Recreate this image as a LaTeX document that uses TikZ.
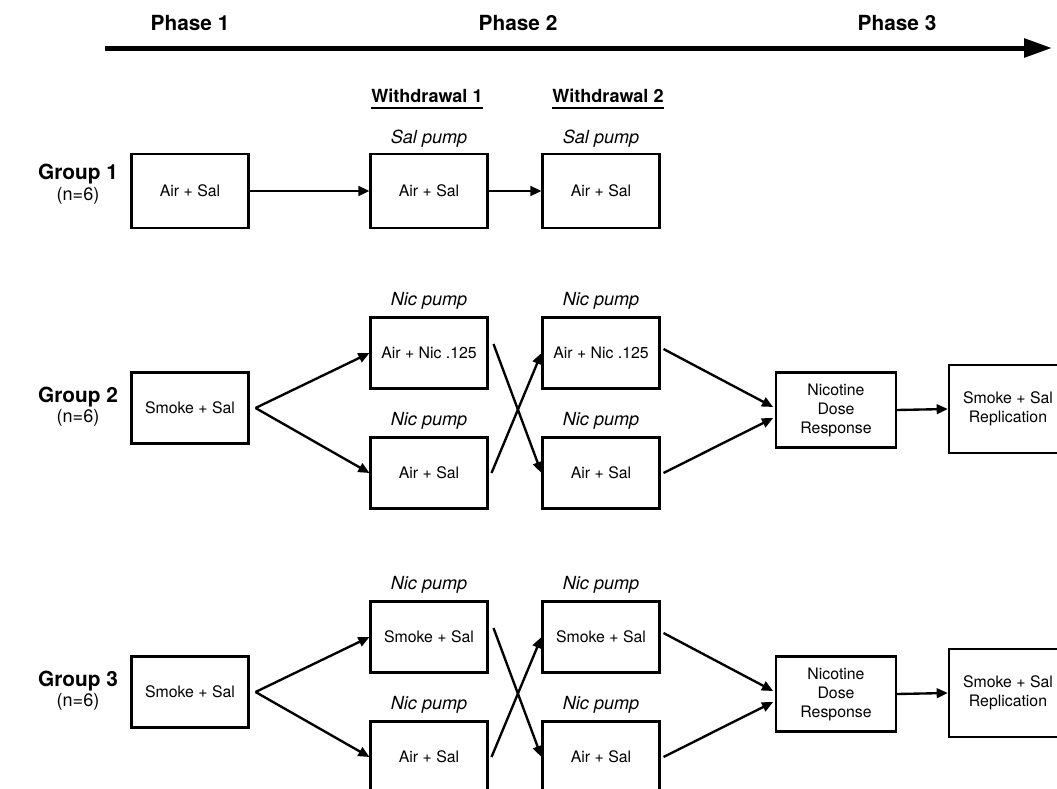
\documentclass[tikz,border=0pt]{standalone}
\usepackage{fontspec}
\setmainfont{TeX Gyre Heros}
\usetikzlibrary{calc,arrows.meta}

\begin{document}
\begin{tikzpicture}[x=0.72pt,y=-0.72pt,
		boite/.style={draw,line width=1.7pt,inner sep=0pt,minimum width=84pt,minimum height=51pt,align=center,font=\fontsize{11.4}{13.7}\selectfont},
		fleche/.style={line width=1.7pt,-{Triangle[length=8pt,width=7pt]}},
		pompe/.style={anchor=base,inner sep=0pt,font=\fontsize{13}{15}\selectfont\itshape},
		phase/.style={font=\fontsize{15}{17}\selectfont\bfseries},
		retrait/.style={inner sep=0pt,font=\fontsize{13}{15}\selectfont\bfseries},
		groupe/.style={inner sep=0pt,font=\fontsize{15}{17}\selectfont\bfseries},
		effectif/.style={inner sep=0pt,font=\fontsize{13}{15}\selectfont}]
		\useasboundingbox (0,0) rectangle (1057,789);
		\clip (0,0) rectangle (1057,789);
		% axe du temps et phases
		\coordinate(T0)at(105,48);
		\coordinate(T1)at(1052,48);
		\draw[line width=3.6pt,-{Triangle[length=20pt,width=13pt]}] (T0) -- (T1);
		\node[phase] (P1) at (190,23) {Phase 1};
		\node[phase] (P2) at (518,23) {Phase 2};
		\node[phase] (P3) at (897,23) {Phase 3};
		% titres des sevrages (souligne epais)
		\node[retrait,anchor=base west] (W1) at (371,102) {Withdrawal 1};
		\node[retrait,anchor=base west] (W2) at (552,102) {Withdrawal 2};
		\foreach \w in {W1,W2}{%
			\draw[line width=1.6pt] ($(\w.base west)+(0,6)$) -- ($(\w.base east)+(0,6)$);
			}
		% groupe 1 : air + sal partout
		\node[groupe] (G1) at (78,174) {Group 1};
		\node[effectif] (n1) at (78,196) {(n=6)};
		\node[boite,minimum height=53pt] (L1) at (190,191) {Air + Sal};
		\node[boite,minimum height=53pt] (A1) at (429,191) {Air + Sal};
		\node[boite,minimum height=53pt] (C1) at (601,191) {Air + Sal};
		\node[pompe] (pA1) at ($(A1.north)+(0,-10)$) {Sal pump};
		\node[pompe] (pC1) at ($(C1.north)+(0,-10)$) {Sal pump};
		\draw[fleche] (L1.east) -- (A1.west);
		\draw[fleche] (A1.east) -- (C1.west);
		% groupes 2 et 3 : meme schema, decale de 284 px vers le bas
		\foreach \g/\dy/\haut in {2/0/{Air + Nic .125},3/284/{Smoke + Sal}}{%
			\node[groupe] (G\g) at (78,397+\dy) {Group \g};
			\node[effectif] (n\g) at (78,418+\dy) {(n=6)};
			\node[boite] (L\g) at (190,408+\dy) {Smoke + Sal};
			\node[boite] (A\g) at (429,353+\dy) {\haut};
			\node[boite] (B\g) at (429,473+\dy) {Air + Sal};
			\node[boite] (C\g) at (601,353+\dy) {\haut};
			\node[boite] (D\g) at (601,473+\dy) {Air + Sal};
			\node[boite,minimum width=86pt,minimum height=54pt] (N\g) at (836,410+\dy) {Nicotine\\Dose\\Response};
			\node[boite,minimum width=85pt,minimum height=63pt] (R\g) at (1008,409+\dy) {Smoke + Sal\\Replication};
			\foreach \b in {A,B,C,D}{%
				\node[pompe] (p\b\g) at ($(\b\g.north)+(0,-11)$) {Nic pump};
				}
			% fleches : eventail, croisement, convergence
			\draw[fleche] ([shift={(6,0)}]L\g.east) -- (A\g.west);
			\draw[fleche] ([shift={(6,0)}]L\g.east) -- (B\g.west);
			\draw[fleche] ([shift={(5,-9)}]A\g.east) -- (D\g.west);
			\draw[fleche] ([shift={(3,0)}]B\g.east) -- (C\g.west);
			\draw[fleche] ([shift={(3,-4)}]C\g.east) -- ([shift={(-2,-3)}]N\g.west);
			\draw[fleche] ([shift={(3,0)}]D\g.east) -- ([shift={(-2,8)}]N\g.west);
			\draw[fleche] (N\g.east) -- (R\g.west);
			}
	\end{tikzpicture}
\end{document}
